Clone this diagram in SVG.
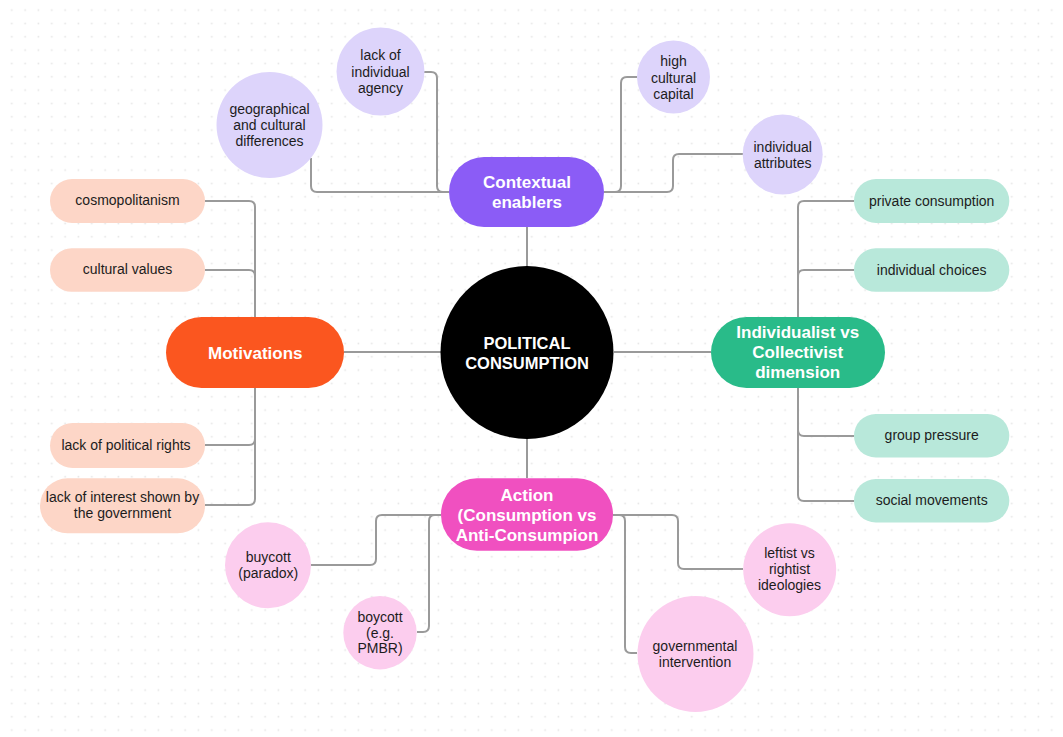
<svg xmlns="http://www.w3.org/2000/svg" width="1063" height="737" viewBox="0 0 1063 737">
<defs>
<pattern id="dots" x="0" y="0" width="13.333" height="13.333" patternUnits="userSpaceOnUse">
<rect x="11" y="9.3" width="1.6" height="1.6" fill="#e4e4e4"/>
</pattern>
<style>
.conn{fill:none;stroke:#9a9a9a;stroke-width:2;stroke-linejoin:round}
.t{font-family:"Liberation Sans",Arial,sans-serif;font-size:14px;fill:#1c1c1c;text-anchor:middle}
.h{font-family:"Liberation Sans",Arial,sans-serif;font-size:17px;font-weight:bold;fill:#ffffff;text-anchor:middle}
.lav{fill:#ddd4fb}
.pink{fill:#fccdee}
.peach{fill:#fdd6c7}
.mint{fill:#b8e8da}
</style>
</defs>
<rect width="1063" height="737" fill="#ffffff"/>
<rect width="1063" height="737" fill="url(#dots)"/>

<g id="connectors">
<path class="conn" d="M527,227 V266 M527,439 V478 M344,352 H441 M614,352 H711"/>
<path class="conn" d="M449,192 H317 Q311,192 311,186 V158"/>
<path class="conn" d="M449,192 H443 Q437,192 437,186 V78 Q437,72 431,72 H424"/>
<path class="conn" d="M604,192 H615 Q621,192 621,186 V83 Q621,77 627,77 H637"/>
<path class="conn" d="M604,192 H667 Q673,192 673,186 V160 Q673,154 679,154 H743"/>
<path class="conn" d="M255,317 V207 Q255,201 249,201 H205"/>
<path class="conn" d="M255,276 Q255,270 249,270 H205"/>
<path class="conn" d="M255,388 V499 Q255,505 249,505 H205"/>
<path class="conn" d="M255,439 Q255,445 249,445 H205"/>
<path class="conn" d="M798,317 V207 Q798,201 804,201 H854"/>
<path class="conn" d="M798,276 Q798,270 804,270 H854"/>
<path class="conn" d="M798,388 V495 Q798,501 804,501 H854"/>
<path class="conn" d="M798,430 Q798,436 804,436 H854"/>
<path class="conn" d="M441,515 H382 Q376,515 376,521 V559 Q376,565 370,565 H311"/>
<path class="conn" d="M441,515 H435 Q429,515 429,521 V626 Q429,632 423,632 H417"/>
<path class="conn" d="M613,515 H672 Q678,515 678,521 V563 Q678,569 684,569 H743"/>
<path class="conn" d="M613,515 H619 Q625,515 625,521 V647 Q625,653 631,653 H637"/>
</g>

<g id="center">
<circle cx="527" cy="352.5" r="86.5" fill="#000000"/>
<text class="h" style="font-size:16.5px" x="527" y="349">POLITICAL</text>
<text class="h" style="font-size:16.5px" x="527" y="369">CONSUMPTION</text>
</g>

<g id="contextual-enablers">
<rect x="449" y="157" width="155" height="70" rx="35" fill="#8b5cf6"/>
<text class="h" x="527" y="188">Contextual</text>
<text class="h" x="527" y="208">enablers</text>
</g>
<g id="geographical">
<circle class="lav" cx="269.5" cy="125" r="53"/>
<text class="t" x="269.5" y="114.3">geographical</text>
<text class="t" x="269.5" y="130">and cultural</text>
<text class="t" x="269.5" y="146">differences</text>
</g>
<g id="lack-of-agency">
<circle class="lav" cx="380.5" cy="71.5" r="44"/>
<text class="t" x="380.5" y="60">lack of</text>
<text class="t" x="380.5" y="76.5">individual</text>
<text class="t" x="380.5" y="92.5">agency</text>
</g>
<g id="high-cultural-capital">
<circle class="lav" cx="673.5" cy="77" r="36.5"/>
<text class="t" x="673.5" y="66">high</text>
<text class="t" x="673.5" y="82.5">cultural</text>
<text class="t" x="673.5" y="98.5">capital</text>
</g>
<g id="individual-attributes">
<circle class="lav" cx="782.7" cy="154.5" r="40"/>
<text class="t" x="782.7" y="151.7">individual</text>
<text class="t" x="782.7" y="167.5">attributes</text>
</g>

<g id="motivations">
<rect x="166" y="317" width="178" height="71" rx="35.5" fill="#fb561f"/>
<text class="h" x="255.3" y="359.3">Motivations</text>
</g>
<g id="cosmopolitanism">
<rect class="peach" x="50" y="179" width="155" height="44" rx="22"/>
<text class="t" x="127.5" y="205">cosmopolitanism</text>
</g>
<g id="cultural-values">
<rect class="peach" x="50" y="248.3" width="155" height="43.5" rx="21.75"/>
<text class="t" x="127.5" y="274.3">cultural values</text>
</g>
<g id="lack-of-political-rights">
<rect class="peach" x="50" y="423" width="155" height="45" rx="22.5"/>
<text class="t" x="126" y="449.5">lack of political rights</text>
</g>
<g id="lack-of-interest">
<rect class="peach" x="40" y="478.3" width="165" height="55" rx="27.5"/>
<text class="t" x="122.5" y="502.3">lack of interest shown by</text>
<text class="t" x="122.5" y="518.3">the government</text>
</g>

<g id="individualist-collectivist">
<rect x="711" y="317" width="174" height="71" rx="35.5" fill="#29bb89"/>
<text class="h" x="797.7" y="338.3">Individualist vs</text>
<text class="h" x="797.7" y="358.3">Collectivist</text>
<text class="h" x="797.7" y="378.3">dimension</text>
</g>
<g id="private-consumption">
<rect class="mint" x="854" y="179" width="155.3" height="44" rx="22"/>
<text class="t" x="931.7" y="205.7">private consumption</text>
</g>
<g id="individual-choices">
<rect class="mint" x="854" y="248.3" width="155.3" height="43.5" rx="21.75"/>
<text class="t" x="931.7" y="274.5">individual choices</text>
</g>
<g id="group-pressure">
<rect class="mint" x="854" y="414" width="155.3" height="43.5" rx="21.75"/>
<text class="t" x="931.7" y="440.2">group pressure</text>
</g>
<g id="social-movements">
<rect class="mint" x="854" y="479" width="155.3" height="43.5" rx="21.75"/>
<text class="t" x="931.7" y="505.2">social movements</text>
</g>

<g id="action">
<rect x="441" y="478.3" width="172" height="72.5" rx="36" fill="#f050c0"/>
<text class="h" x="527" y="500.7">Action</text>
<text class="h" x="527" y="521">(Consumption vs</text>
<text class="h" x="527" y="541">Anti-Consumpion</text>
</g>
<g id="buycott">
<circle class="pink" cx="268" cy="565.3" r="43"/>
<text class="t" x="268.3" y="562.3">buycott</text>
<text class="t" x="268.3" y="578.3">(paradox)</text>
</g>
<g id="boycott">
<circle class="pink" cx="380" cy="632.7" r="36.7"/>
<text class="t" x="380" y="621.7">boycott</text>
<text class="t" x="380" y="637.7">(e.g.</text>
<text class="t" x="380" y="653.3">PMBR)</text>
</g>
<g id="leftist-rightist">
<circle class="pink" cx="789.7" cy="569.7" r="46.5"/>
<text class="t" x="789.5" y="557.7">leftist vs</text>
<text class="t" x="789.5" y="574.3">rightist</text>
<text class="t" x="789.5" y="590">ideologies</text>
</g>
<g id="governmental-intervention">
<circle class="pink" cx="695.5" cy="654" r="58"/>
<text class="t" x="695" y="650.7">governmental</text>
<text class="t" x="695" y="666.7">intervention</text>
</g>
</svg>
